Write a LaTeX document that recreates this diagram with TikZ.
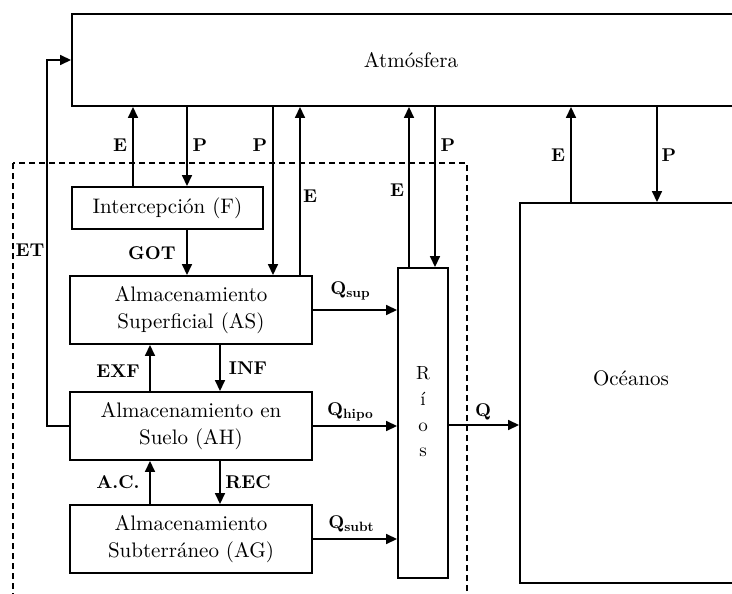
\documentclass[tikz,border=0pt]{standalone}
\usepackage{fontspec}
\setmainfont{lmroman10-regular.otf}[BoldFont=lmroman10-bold.otf]
\usetikzlibrary{arrows.meta,calc}
\begin{document}
\begin{tikzpicture}[x=1pt,y=-1pt,
  box/.style={draw, line width=1.9pt, inner sep=0pt, align=center, font=\fontsize{21}{27}\selectfont},
  arr/.style={line width=1.6pt, -{Triangle[length=11pt,width=10pt]}},
  lbl/.style={font=\fontsize{18.5}{22}\selectfont\bfseries, inner sep=0pt},
  sys/.style={line width=1.4pt, dash pattern=on 6pt off 4pt},
]
\useasboundingbox (0,0) rectangle (732,594);
\clip (0,0) rectangle (732,594);
% boxes
\node[box, minimum width=678pt, minimum height=92pt] (atm) at (411,60) {Atmósfera};
\node[box, minimum width=191pt, minimum height=42pt] (int) at (167.5,208) {Intercepción (F)};
\node[box, minimum width=242pt, minimum height=68pt] (as) at (191,310) {Almacenamiento\\Superficial (AS)};
\node[box, minimum width=242pt, minimum height=68pt] (ah) at (191,426) {Almacenamiento en\\Suelo (AH)};
\node[box, minimum width=242pt, minimum height=68pt] (ag) at (191,539) {Almacenamiento\\Subterráneo (AG)};
\node[box, minimum width=50pt, minimum height=310pt,
  label={[font=\fontsize{19}{25.7}\selectfont, align=center, yshift=11pt, inner sep=0pt]center:{R\\í\\o\\s}}] (rios) at (423,423) {};
\node[box, minimum width=222pt, minimum height=380pt,
  label={[font=\fontsize{21}{25}\selectfont, yshift=15pt]center:Océanos}] (oce) at (631,393) {};
% system boundary
\draw[sys] (13,163) rectangle (467,610);
% vertical exchanges with atmosphere
\draw[arr] (int.north -| 133,0) -- (atm.south -| 133,0);
\draw[arr] (atm.south -| 187,0) -- (int.north -| 187,0);
\draw[arr] (atm.south -| 273,0) -- (as.north -| 273,0);
\draw[arr] (as.north -| 300,0) -- (atm.south -| 300,0);
\draw[arr] (rios.north -| 409,0) -- (atm.south -| 409,0);
\draw[arr] (atm.south -| 435,0) -- (rios.north -| 435,0);
\draw[arr] (oce.north -| 571,0) -- (atm.south -| 571,0);
\draw[arr] (atm.south -| 657,0) -- (oce.north -| 657,0);
% internal flows
\draw[arr] (int.south -| 187,0) -- (as.north -| 187,0);
\draw[arr] (ah.north -| 150,0) -- (as.south -| 150,0);
\draw[arr] (as.south -| 220,0) -- (ah.north -| 220,0);
\draw[arr] (ag.north -| 150,0) -- (ah.south -| 150,0);
\draw[arr] (ah.south -| 220,0) -- (ag.north -| 220,0);
\draw[arr] (as.east) -- (as.east -| rios.west);
\draw[arr] (ah.east) -- (ah.east -| rios.west);
\draw[arr] (ag.east) -- (ag.east -| rios.west);
\draw[arr] (rios.east |- 0,425) -- (oce.west |- 0,425);
\draw[arr] (ah.west) -- (ah.west -| 47,0) |- (atm.west);
% labels
\node[lbl] (lE1) at (120,145) {E};
\node[lbl] (lP1) at (200,145) {P};
\node[lbl] (lP2) at (260,145) {P};
\node[lbl] (lE2) at (310,196) {E};
\node[lbl] (lE3) at (397,190) {E};
\node[lbl] (lP3) at (448,145) {P};
\node[lbl] (lE4) at (558,155) {E};
\node[lbl] (lP4) at (669,155) {P};
\node[lbl] (lET) at (30,250) {ET};
\node[lbl] (lGOT) at (152,253) {GOT};
\node[lbl] (lEXF) at (118,371) {EXF};
\node[lbl] (lINF) at (248,368) {INF};
\node[lbl] (lAC) at (118,482) {A.C.};
\node[lbl] (lREC) at (248,482) {REC};
\node[lbl] (lQs) at (350,291) {Q\raisebox{-3pt}{\fontsize{13.5}{14}\selectfont sup}};
\node[lbl] (lQh) at (350,412) {Q\raisebox{-3pt}{\fontsize{13.5}{14}\selectfont hipo}};
\node[lbl] (lQb) at (351,524) {Q\raisebox{-3pt}{\fontsize{13.5}{14}\selectfont subt}};
\node[lbl] (lQ) at (483,412) {Q};
\end{tikzpicture}
\end{document}
